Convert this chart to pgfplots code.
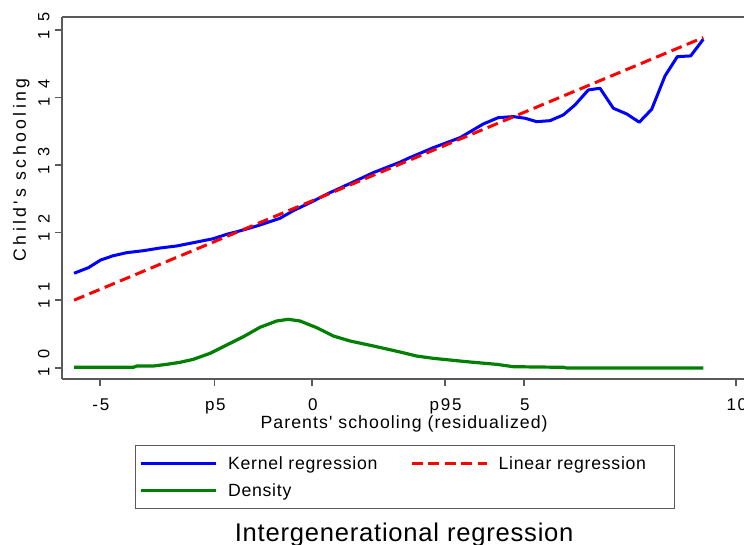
\documentclass[border=0pt]{standalone}
\usepackage{fontspec}
\setmainfont{Liberation Sans}
\newfontfamily\fleg[LetterSpace=4]{Liberation Sans}
\newfontfamily\fylab[LetterSpace=19]{Liberation Sans}
\newfontfamily\fytick[LetterSpace=55]{Liberation Sans}
\newfontfamily\fxtick[LetterSpace=10]{Liberation Sans}
\newfontfamily\fxlab[LetterSpace=6]{Liberation Sans}
\newfontfamily\ftitle[LetterSpace=3]{Liberation Sans}
\usepackage{pgfplots}
\pgfplotsset{compat=1.18}
\definecolor{axgray}{RGB}{90,90,90}
\definecolor{sblue}{RGB}{0,0,255}
\definecolor{sred}{RGB}{255,0,0}
\definecolor{sgreen}{RGB}{0,128,0}
\begin{document}
\begin{tikzpicture}
\useasboundingbox (0,0) rectangle (372pt,272.5pt);
\begin{axis}[
  at={(31.15pt,83pt)}, anchor=south west,
  scale only axis, width=341.85pt, height=180.85pt,
  xmin=-5.89, xmax=10.236, ymin=9.833, ymax=15.19,
  axis x line*=box, axis y line*=left,
  axis line style={axgray, line width=1pt},
  every tick/.style={axgray, line width=0.8pt},
  tick align=outside, major tick length=3.5pt,
  xtick pos=bottom, ytick pos=left,
  xtick={-5,-2.30,0,3.13,5,10},
  xticklabels={-5,p5,0,p95,5,10},
  ytick={10,11,12,13,14,15},
  /pgf/number format/assume math mode=true,
  xticklabel style={font=\fxtick\fontsize{8.5}{9}\selectfont, inner sep=0pt, anchor=base, yshift=-12.35pt, xshift=0.43pt},
  yticklabel style={font=\fytick\fontsize{8.15}{9}\selectfont, inner sep=0pt, rotate=90, anchor=south, xshift=2.24pt, yshift=2.65pt},
  xlabel={Parents' schooling (residualized)},
  xlabel style={font=\fxlab\fontsize{8.85}{10}\selectfont, at={(0.5,-0.1374)}, anchor=base, inner sep=0pt},
  ylabel={Child's schooling},
  ylabel style={font=\fylab\fontsize{8.85}{10}\selectfont, at={(-0.0531,0.578)}, anchor=base, inner sep=0pt},
  title={Intergenerational regression},
  title style={font=\ftitle\fontsize{12.8}{14}\selectfont, at={(0.5,-0.4498)}, anchor=base, inner sep=0pt, yshift=-6pt},
  legend columns=2,
  legend cell align=left,
  legend image code/.code={\draw[#1] (0pt,0pt) -- (37.5pt,0pt);},
  legend style={at={(0.1059,-0.1825)}, anchor=north west, draw=axgray, line width=0.6pt,
    inner xsep=2pt, inner ysep=2.6pt, column sep=0pt, row sep=0.15pt,
    font=\fleg\fontsize{8.85}{10}\selectfont,
    nodes={inner xsep=5.3pt, inner ysep=2.5pt, text height=7pt, text depth=1pt}},
]
\addplot[sblue, line width=1.5pt, line join=round] coordinates {
(-5.613,11.399) (-5.276,11.481) (-4.983,11.596) (-4.686,11.659) (-4.370,11.704)
(-3.979,11.733) (-3.585,11.773) (-3.191,11.803) (-2.800,11.852) (-2.328,11.911)
(-2.012,11.976) (-1.620,12.040) (-1.226,12.114) (-0.755,12.213) (-0.441,12.326)
(-0.047,12.444) (0.425,12.593) (0.974,12.751) (1.446,12.889) (2.075,13.044)
(2.271,13.102) (2.861,13.259) (3.491,13.407) (4.040,13.610) (4.394,13.704)
(4.748,13.719) (5.024,13.695) (5.300,13.644) (5.613,13.659) (5.927,13.744)
(6.203,13.892) (6.517,14.114) (6.792,14.139) (7.106,13.843) (7.422,13.759)
(7.719,13.636) (8.012,13.828) (8.325,14.321) (8.616,14.607) (8.932,14.618)
(9.229,14.865)
};
\addlegendentry{\makebox[85.7pt][l]{Kernel regression}}
\addplot[sred, line width=1.5pt, dash pattern=on 5.5pt off 2.8pt] coordinates {
(-5.613,11.00) (9.229,14.89)
};
\addlegendentry{\makebox[80.5pt][l]{Linear regression}}
\addplot[sgreen, line width=1.6pt, line join=round] coordinates {
(-5.613,10.006) (-4.215,10.006) (-4.134,10.025) (-3.743,10.025) (-3.427,10.050)
(-3.113,10.080) (-2.800,10.124) (-2.406,10.213) (-2.012,10.336) (-1.620,10.459)
(-1.226,10.599) (-0.833,10.692) (-0.559,10.717) (-0.283,10.692) (0.111,10.593)
(0.502,10.470) (0.896,10.396) (1.446,10.322) (2.075,10.233) (2.469,10.173)
(2.861,10.139) (3.649,10.089) (4.356,10.050) (4.748,10.015) (5.927,10.006)
(6.007,9.996) (9.229,9.996)
};
\addlegendentry{\makebox[85.7pt][l]{Density}}
\end{axis}
\end{tikzpicture}
\end{document}
